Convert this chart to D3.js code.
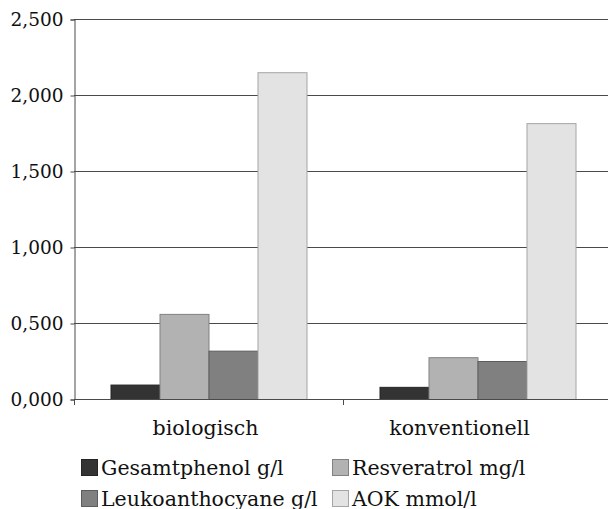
<!DOCTYPE html>
<html>
<head>
<meta charset="utf-8">
<script src="https://cdn.jsdelivr.net/npm/d3@7"></script>
<style>
  html, body { margin: 0; padding: 0; background: #fff; }
  svg { display: block; font-family: "DejaVu Serif", serif; }
</style>
</head>
<body>
<svg id="chart" width="608" height="509"></svg>
<script>
// Categories (x axis groups)
const categories = ["biologisch", "konventionell"];
// Series (legend entries) and their fills
const seriesNames = ["Gesamtphenol g/l", "Resveratrol mg/l", "Leukoanthocyane g/l", "AOK mmol/l"];
const seriesColors = ["#333333", "#b2b2b2", "#808080", "#e3e3e3"];
// Values per series, one per category
const gesamtphenol = [0.095, 0.080];
const resveratrol = [0.560, 0.275];
const leukoanthocyane = [0.318, 0.250];
const aok = [2.150, 1.815];
// Y tick values and labels
const yTicks = [0, 0.5, 1.0, 1.5, 2.0, 2.5];
const yTickLabels = ["0,000", "0,500", "1,000", "1,500", "2,000", "2,500"];

const seriesValues = [gesamtphenol, resveratrol, leukoanthocyane, aok];

const svg = d3.select("#chart");
const plot = { left: 74, right: 612, top: 19, bottom: 399 };

const y = d3.scaleLinear().domain([0, 2.5]).range([plot.bottom, plot.top]);
const x0 = d3.scaleBand().domain(categories).range([plot.left, plot.right]).paddingInner(0).paddingOuter(0);
const x1 = d3.scaleBand().domain(seriesNames).range([0, x0.bandwidth()]).paddingInner(0).paddingOuter(0.745);

// Horizontal gridlines
svg.append("g")
  .selectAll("line")
  .data(yTicks)
  .join("line")
  .attr("x1", plot.left).attr("x2", plot.right)
  .attr("y1", d => Math.round(y(d)) + 0.5).attr("y2", d => Math.round(y(d)) + 0.5)
  .attr("stroke", "#4a4a4a").attr("stroke-width", 1);

// Bars
const groups = svg.append("g")
  .selectAll("g")
  .data(categories)
  .join("g")
  .attr("transform", c => `translate(${x0(c)},0)`);

groups.selectAll("rect")
  .data((c, ci) => seriesNames.map((s, si) => ({ s, si, v: seriesValues[si][ci] })))
  .join("rect")
  .attr("x", d => x1(d.s) + 0.5)
  .attr("width", x1.bandwidth())
  .attr("y", d => y(d.v) + 0.5)
  .attr("height", d => y(0) - y(d.v))
  .attr("fill", d => seriesColors[d.si])
  .attr("stroke", d => d3.color(seriesColors[d.si]).darker(0.9))
  .attr("stroke-width", 1);

// Y axis
const yAxis = d3.axisLeft(y)
  .tickValues(yTicks)
  .tickFormat((d, i) => yTickLabels[i])
  .tickSize(4)
  .tickPadding(7);
const yg = svg.append("g")
  .attr("transform", `translate(${plot.left + 0.5},0.5)`)
  .call(yAxis);
yg.select(".domain").attr("stroke", "#4a4a4a");
yg.selectAll(".tick line").attr("stroke", "#4a4a4a");
yg.selectAll(".tick text")
  .attr("font-family", "DejaVu Serif, serif")
  .attr("font-size", 18.5)
  .attr("fill", "#111");

// X axis: baseline and category boundary ticks
svg.append("line")
  .attr("x1", plot.left).attr("x2", plot.right)
  .attr("y1", plot.bottom + 0.5).attr("y2", plot.bottom + 0.5)
  .attr("stroke", "#4a4a4a");
const boundaries = categories.map(c => x0(c)).concat([plot.right]);
svg.append("g").selectAll("line")
  .data(boundaries)
  .join("line")
  .attr("x1", d => Math.round(d) + 0.5).attr("x2", d => Math.round(d) + 0.5)
  .attr("y1", plot.bottom).attr("y2", plot.bottom + 6)
  .attr("stroke", "#4a4a4a");

// Category labels (the right one is pulled inward to stay within the frame)
const labelShift = [-3, -18];
svg.append("g").selectAll("text")
  .data(categories)
  .join("text")
  .attr("x", (c, i) => x0(c) + x0.bandwidth() / 2 + labelShift[i])
  .attr("y", 435)
  .attr("text-anchor", "middle")
  .attr("font-size", 20.5)
  .attr("fill", "#111")
  .text(c => c);

// Legend: two columns, two rows
const legendCols = [81, 332];
const legendRows = [459, 490];
const legend = svg.append("g").selectAll("g")
  .data(seriesNames)
  .join("g")
  .attr("transform", (s, i) => `translate(${legendCols[i % 2]},${legendRows[Math.floor(i / 2)]})`);
legend.append("rect")
  .attr("x", 0.5).attr("y", 0.5)
  .attr("width", 16).attr("height", 16)
  .attr("fill", (s, i) => seriesColors[i])
  .attr("stroke", (s, i) => d3.color(seriesColors[i]).darker(0.9));
legend.append("text")
  .attr("x", 20)
  .attr("y", 15.5)
  .attr("font-size", 20.5)
  .attr("fill", "#111")
  .text(s => s);
</script>
</body>
</html>
